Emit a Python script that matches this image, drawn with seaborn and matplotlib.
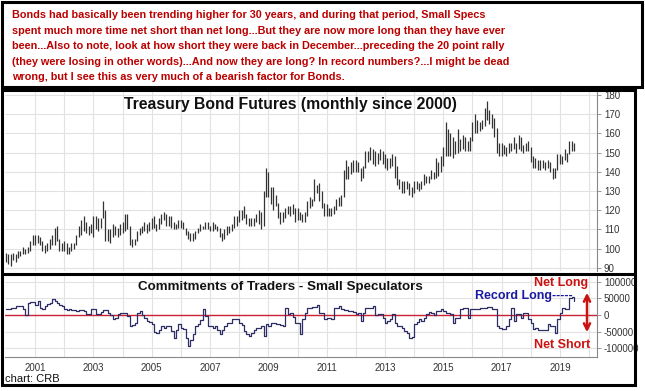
import numpy as np
import pandas as pd
import seaborn as sns
import matplotlib.pyplot as plt
from matplotlib.patches import Rectangle

# monthly bars, Jan 2000 .. Jul 2019
months = pd.date_range('2000-01-01', periods=235, freq='MS')

bond_low = [
    93, 92, 91, 94, 93, 95, 96, 97, 97, 98, 99, 102,        # 2000
    102, 103, 102, 99, 98, 99, 100, 102, 102, 104, 99, 99,  # 2001
    99, 97, 97, 99, 100, 102, 106, 107, 109, 108, 107, 108, # 2002
    106, 110, 109, 111, 116, 104, 104, 103, 106, 107, 106, 107,
    108, 109, 110, 102, 101, 102, 104, 107, 108, 109, 108, 109,
    110, 111, 109, 110, 113, 115, 112, 112, 111, 110, 110, 111,
    111, 110, 107, 105, 104, 104, 105, 108, 109, 110, 110, 110,
    109, 109, 110, 109, 106, 104, 105, 107, 108, 109, 111, 112,
    114, 115, 116, 113, 112, 112, 112, 114, 113, 110, 112, 127,
    127, 123, 120, 122, 116, 113, 114, 116, 118, 117, 118, 114,
    115, 115, 114, 114, 117, 121, 122, 125, 129, 125, 121, 117,
    117, 117, 117, 118, 120, 122, 122, 127, 136, 136, 139, 140,
    140, 140, 135, 137, 142, 145, 146, 144, 143, 144, 146, 144,
    142, 141, 142, 143, 137, 133, 131, 129, 129, 131, 128, 127,
    129, 131, 130, 131, 133, 134, 134, 136, 136, 137, 138, 140,
    143, 148, 148, 148, 147, 149, 150, 151, 152, 151, 151, 151,
    156, 160, 160, 161, 162, 164, 167, 165, 163, 158, 150, 148,
    148, 149, 148, 150, 151, 152, 150, 152, 151, 150, 151, 151,
    145, 142, 142, 141, 141, 142, 141, 142, 140, 136, 137, 141,
    144, 144, 146, 145, 149, 151, 151,                        # 2019
]
bond_high = [
    98, 97, 97, 98, 97, 99, 99, 101, 100, 101, 104, 107,
    107, 107, 106, 104, 102, 103, 105, 107, 111, 112, 105, 103,
    104, 103, 101, 103, 103, 107, 112, 115, 117, 114, 112, 113,
    117, 117, 116, 116, 125, 120, 110, 110, 113, 112, 111, 113,
    114, 118, 118, 112, 105, 105, 109, 111, 112, 114, 113, 114,
    116, 117, 113, 116, 118, 119, 118, 117, 117, 114, 113, 115,
    115, 114, 111, 109, 108, 108, 109, 111, 113, 112, 114, 114,
    112, 114, 113, 112, 111, 108, 110, 112, 112, 113, 117, 117,
    120, 120, 122, 118, 116, 116, 116, 118, 120, 119, 130, 142,
    140, 132, 132, 128, 124, 119, 119, 121, 122, 122, 123, 121,
    121, 119, 118, 119, 125, 127, 126, 136, 133, 134, 130, 124,
    123, 121, 121, 122, 126, 127, 128, 141, 146, 143, 145, 146,
    146, 145, 142, 143, 151, 151, 153, 152, 151, 150, 152, 151,
    149, 147, 147, 149, 148, 143, 136, 135, 135, 135, 134, 132,
    135, 135, 134, 135, 139, 138, 138, 141, 140, 147, 145, 148,
    153, 166, 162, 160, 158, 156, 162, 157, 159, 158, 156, 158,
    166, 170, 167, 166, 167, 173, 177, 172, 170, 168, 163, 155,
    155, 154, 153, 155, 155, 158, 155, 159, 158, 154, 155, 156,
    153, 148, 147, 146, 146, 146, 145, 146, 145, 142, 142, 149,
    149, 148, 152, 150, 156, 156, 155,
]

# small speculators net position, thousands of contracts
small_spec_k = [
    17, 17, 20, 22, 27, 27, 27, 17, 0, 35, 38, 40,
    30, 42, 20, 17, 27, 33, 37, 48, 42, 35, 30, 27,
    17, 14, 17, 15, 14, 13, 14, 14, 13, 3, 2, 17,
    17, 3, 2, 9, 15, 14, 5, -1, -11, -8, 2, 7,
    7, 6, -3, -33, -30, -23, 7, 12, -1, -10, -18, -21,
    -28, -50, -53, -45, -33, -38, -33, -33, -48, -68, -45, -28,
    -38, -43, -68, -93, -75, -58, -33, -28, -15, 18, -3, -33,
    -33, -38, -33, -45, -58, -45, -33, -23, -23, -13, -11, -11,
    -23, -30, -48, -58, -62, -53, -45, -38, -38, -33, -63, -28,
    -33, -23, -23, -28, -28, -30, -33, 20, 2, 7, -5, -23,
    -23, -58, -13, 7, 20, 20, 25, 25, 29, 7, 7, -13,
    -8, -8, -13, 20, 20, 27, 17, 15, 15, 12, 12, 8,
    2, 5, -18, 7, 20, 20, 22, 27, -1, 2, 2, -8,
    -23, -18, -13, 2, -23, -33, -33, -38, -48, -55, -68, -65,
    -28, -20, -13, -18, -8, 2, 9, 5, -1, 12, 12, 17,
    12, 7, 7, 2, -23, -8, -8, 17, 22, 22, -8, 17,
    17, 19, 19, 22, 22, 22, 25, 25, 19, 19, -33, -38,
    -43, -43, -33, -13, 20, -18, 2, 2, -8, 5, 5, -13,
    -23, -43, -38, -45, -45, -45, -45, -28, -33, -33, -53, -13,
    7, 22, 17, 17, 52, 55, 42,
]

grid_years = list(range(2001, 2021))
label_years = list(range(2001, 2020, 2))
price_ticks = list(range(90, 181, 10))
cot_ticks = [-100000, -50000, 0, 50000, 100000]

note_lines = [
    "Bonds had basically been trending higher for 30 years, and during that period, Small Specs",
    "spent much more time net short than net long...But they are now more long than they have ever",
    "been...Also to note, look at how short they were back in December...preceding the 20 point rally",
    "(they were losing in other words)...And now they are long? In record numbers?...I might be dead",
    "wrong, but I see this as very much of a bearish factor for Bonds.",
]

sns.set_theme(style='white')
plt.rcParams['font.family'] = ['Liberation Sans', 'DejaVu Sans']
plt.rcParams['axes.unicode_minus'] = False

W, H = 645, 391
fig = plt.figure(figsize=(W / 100, H / 100), dpi=100)
fig.patch.set_facecolor('white')


def fx(px):
    return px / W


def fy(py):
    return 1 - py / H


def fbox(x0, y0, x1, y1):
    return [fx(x0), fy(y1), fx(x1) - fx(x0), fy(y0) - fy(y1)]


xlim = (pd.Timestamp('1999-12-20'), pd.Timestamp('2020-04-10'))
year_starts = [pd.Timestamp(f'{y}-01-01') for y in grid_years]

# price panel
ax1 = fig.add_axes(fbox(5, 91, 597, 271))
ax1.vlines(months, bond_low, bond_high, color='#333333', lw=0.9)
ax1.set_xlim(xlim)
ax1.set_ylim(88.4, 182)
ax1.set_yticks(price_ticks)
ax1.set_xticks(year_starts)
ax1.yaxis.tick_right()
ax1.grid(True, color='#e2e2e2', lw=0.8)
ax1.tick_params(axis='x', length=0, labelbottom=False)
ax1.tick_params(axis='y', right=True, length=3, width=0.6, color='#888888',
                labelsize=7, labelcolor='#333333', pad=2)
for s in ['top', 'left', 'bottom']:
    ax1.spines[s].set_visible(False)
ax1.spines['right'].set_color('#888888')
ax1.spines['right'].set_linewidth(0.8)

# COT panel
ax2 = fig.add_axes(fbox(5, 276, 597, 357))
cot = pd.DataFrame({'date': months, 'net': np.array(small_spec_k) * 1000})
ax2.axhline(0, color='#cc2233', lw=1.0, zorder=2)
sns.lineplot(data=cot, x='date', y='net', ax=ax2, drawstyle='steps-post',
             color='#2e2e66', lw=0.9, zorder=3)
ax2.set_xlim(xlim)
ax2.set_ylim(-126500, 117500)
ax2.set_yticks(cot_ticks)
ax2.set_yticklabels([str(v) for v in cot_ticks])
ax2.set_xticks(year_starts)
ax2.set_xticklabels([str(y) if y in label_years else '' for y in grid_years])
ax2.set_xlabel('')
ax2.set_ylabel('')
ax2.yaxis.tick_right()
ax2.grid(True, color='#e2e2e2', lw=0.8)
ax2.tick_params(axis='x', length=0, labelsize=7, labelcolor='#333333', pad=4)
ax2.tick_params(axis='y', right=True, length=3, width=0.6, color='#888888',
                labelsize=7, labelcolor='#333333', pad=2)
for s in ['top', 'left']:
    ax2.spines[s].set_visible(False)
for s in ['right', 'bottom']:
    ax2.spines[s].set_color('#888888')
    ax2.spines[s].set_linewidth(0.8)

# texts
for i, line in enumerate(note_lines):
    fig.text(fx(12), fy(15 + i * 15.6), line, ha='left', va='center',
             fontsize=7.8, fontweight='bold', color='#bb0000')

fig.text(fx(290), fy(105), 'Treasury Bond Futures (monthly since 2000)',
         ha='center', va='center', fontsize=11.3, fontweight='bold', color='#111111')
fig.text(fx(280), fy(287), 'Commitments of Traders - Small Speculators',
         ha='center', va='center', fontsize=9.6, fontweight='bold', color='#111111')
fig.text(fx(475), fy(296), 'Record Long-----', ha='left', va='center',
         fontsize=9, fontweight='bold', color='#1a1aa0')
fig.text(fx(561), fy(283), 'Net Long', ha='center', va='center',
         fontsize=9, fontweight='bold', color='#cc1111')
fig.text(fx(562), fy(345), 'Net Short', ha='center', va='center',
         fontsize=9, fontweight='bold', color='#cc1111')
fig.text(fx(5), fy(378.5), 'chart: CRB', ha='left', va='center',
         fontsize=8, color='#111111')

fig.add_artist(plt.Annotation('', xy=(fx(587), fy(335)), xytext=(fx(587), fy(290)),
                              xycoords='figure fraction', textcoords='figure fraction',
                              arrowprops=dict(arrowstyle='<->', color='#cc1111', lw=1.8,
                                              mutation_scale=11)))

# black frames
lw = 2.2
fig.add_artist(Rectangle((fx(1.5), fy(87)), fx(642) - fx(1.5), fy(1.5) - fy(87),
                         transform=fig.transFigure, fill=False, ec='black', lw=lw))
fig.add_artist(Rectangle((fx(1.5), fy(385)), fx(634.5) - fx(1.5), fy(89.5) - fy(385),
                         transform=fig.transFigure, fill=False, ec='black', lw=lw))
fig.add_artist(plt.Line2D([fx(1.5), fx(634.5)], [fy(273.5), fy(273.5)],
                          transform=fig.transFigure, color='black', lw=lw))

fig.savefig('out.png', dpi=100)
